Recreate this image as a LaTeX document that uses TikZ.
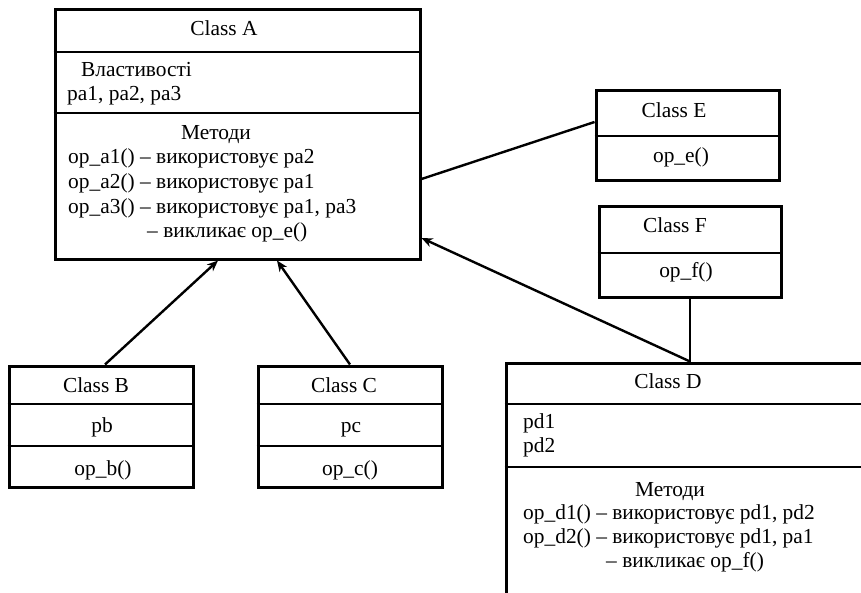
\documentclass[tikz,border=0pt]{standalone}
\usepackage{fontspec}
\setmainfont{Liberation Serif}
\usetikzlibrary{arrows.meta}
\begin{document}
\begin{tikzpicture}[x=1pt,y=-1pt,
  box/.style={draw=black,line width=3pt,rectangle,inner sep=0pt},
  divider/.style={draw=black,line width=2.4pt},
  conn/.style={draw=black,line width=2.4pt},
  arr/.style={conn,-{Stealth[length=11pt,width=9pt,inset=3.5pt]}},
  txt/.style={inner sep=0pt,font=\fontsize{21.4}{25}\selectfont},
  ltxt/.style={txt,anchor=base west},
  ctxt/.style={txt,anchor=base}]
\useasboundingbox (0,0) rectangle (861,592);
\clip (0,0) rectangle (861,592);
% Class A
\node[box,minimum width=365pt,minimum height=250pt] (A) at (237.5,134) {};
\draw[divider] (A.west |- 0,52) -- (A.east |- 0,52);
\draw[divider] (A.west |- 0,113) -- (A.east |- 0,113);
\node[ctxt] (Aname) at (224,35) {Class A};
\node[ltxt] (Aprop) at (81,76) {Властивості};
\node[ltxt] (Apa) at (67,100) {pa1, pa2, pa3};
\node[ctxt] (Ameth) at (216,139) {Методи};
\node[ltxt] (Aop1) at (68,163) {op\_a1() – використовує pa2};
\node[ltxt] (Aop2) at (68,188) {op\_a2() – використовує pa1};
\node[ltxt] (Aop3) at (68,213) {op\_a3() – використовує pa1, pa3};
\node[ltxt] (Aop4) at (147,237) {– викликає op\_e()};
% Class B
\node[box,minimum width=184pt,minimum height=121pt] (B) at (101,426.5) {};
\draw[divider] (B.west |- 0,404) -- (B.east |- 0,404);
\draw[divider] (B.west |- 0,446) -- (B.east |- 0,446);
\node[ctxt] (Bname) at (96,392) {Class B};
\node[ctxt] (Bp) at (102,432) {pb};
\node[ctxt] (Bop) at (103,475) {op\_b()};
% Class C
\node[box,minimum width=184pt,minimum height=121pt] (C) at (350,426.5) {};
\draw[divider] (C.west |- 0,404) -- (C.east |- 0,404);
\draw[divider] (C.west |- 0,446) -- (C.east |- 0,446);
\node[ctxt] (Cname) at (344,392) {Class C};
\node[ctxt] (Cp) at (351,432) {pc};
\node[ctxt] (Cop) at (350,475) {op\_c()};
% Class E
\node[box,minimum width=183pt,minimum height=90pt] (E) at (687.5,135) {};
\draw[divider] (E.west |- 0,136) -- (E.east |- 0,136);
\node[ctxt] (Ename) at (674,117) {Class E};
\node[ctxt] (Eop) at (681,162) {op\_e()};
% Class F
\node[box,minimum width=182pt,minimum height=91pt] (F) at (690,251.5) {};
\draw[divider] (F.west |- 0,253) -- (F.east |- 0,253);
\node[ctxt] (Fname) at (675,232) {Class F};
\node[ctxt] (Fop) at (686,277) {op\_f()};
% Class D (cut off by the picture edge)
\node[box,minimum width=368pt,minimum height=260pt] (D) at (690,493) {};
\draw[divider] (D.west |- 0,404) -- (D.east |- 0,404);
\draw[divider] (D.west |- 0,467) -- (D.east |- 0,467);
\node[ctxt] (Dname) at (668,388) {Class D};
\node[ltxt] (Dp1) at (523,428) {pd1};
\node[ltxt] (Dp2) at (523,452) {pd2};
\node[ctxt] (Dmeth) at (670,496) {Методи};
\node[ltxt] (Dop1) at (523,519) {op\_d1() – використовує pd1, pd2};
\node[ltxt] (Dop2) at (523,543) {op\_d2() – використовує pd1, pa1};
\node[ltxt] (Dop3) at (606,567) {– викликає op\_f()};
% connectors
\draw[arr] ([xshift=4pt]B.north) -- ([xshift=-19.5pt]A.south);
\draw[arr] (C.north) -- ([xshift=39.5pt]A.south);
\draw[arr] (D.north) -- ([yshift=-104pt]A.east);
\draw[conn] ([yshift=-45pt]A.east) -- ([yshift=13pt]E.west);
\draw[conn] (F.south) -- (D.north);
\end{tikzpicture}
\end{document}
